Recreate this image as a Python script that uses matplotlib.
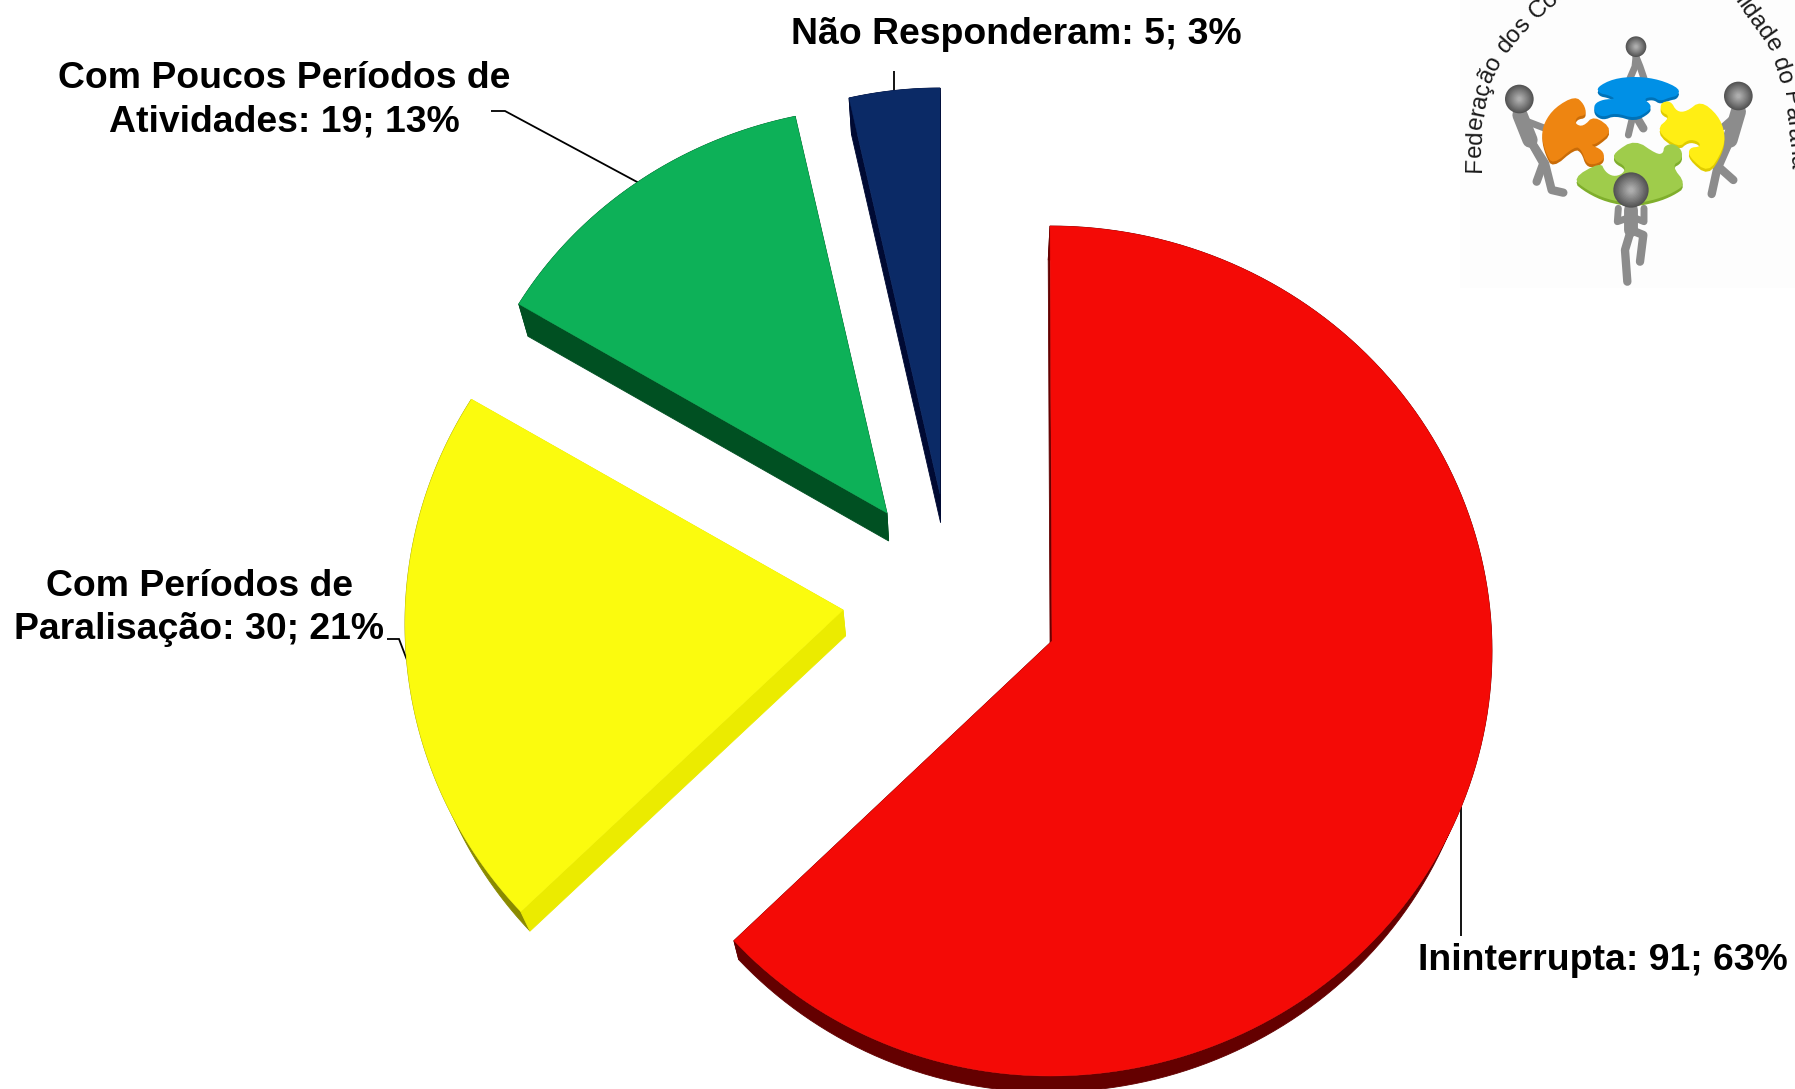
"""Exploded 3D-look pie of the activity categories, with the federation logo
redrawn in the top right corner. The axes run in image pixels, y pointing down.
"""
import matplotlib.pyplot as plt
import numpy as np
from matplotlib.textpath import TextPath
from matplotlib.font_manager import FontProperties

plt.rcParams["font.family"] = ["Liberation Sans", "DejaVu Sans"]

# ── Data ──────────────────────────────────────────────────────────────────────
categories = ["Ininterrupta", "Com Períodos de\nParalisação",
              "Com Poucos Períodos de\nAtividades", "Não Responderam"]
values = [91, 30, 19, 5]
percents = [63, 21, 13, 3]

# ── Styles, one entry per slice ───────────────────────────────────────────────
TOP_COLORS = ["#f40a06", "#fbfb0e", "#0db158", "#0b2a66"]
CUT_COLORS = ["#640000", "#ebeb00", "#005022", "#000a33"]
RIM_COLORS = ["#640000", "#8a8a00", "#005022", "#000a33"]
APEX = [(1052, 641), (843, 610), (887, 513), (940, 494)]
CENTERS = [(1050, 651), (844, 624), (887, 506), (940, 513)]
RADII = [(442, 432, 425), (439, 439, 425), (427, 427, 399), (423, 423, 425)]  # right, left, y
END_SHIFT = [(0, -1.1), (-1.5, -1.5), (0, 0), (0, 0)]
LABEL_XY = [(1603, 961), (199, 608), (284, 100), (1016, 34)]
LEADERS = [[(1461, 807), (1461, 936)],
           [(387, 639), (399, 639), (407, 660)],
           [(491, 111), (505, 111), (639, 183)],
           [(894, 71), (894, 92)]]
VANISH = np.array([965, 1845])
DEPTH = 0.021


def extrude(pts):
    return pts + DEPTH * (VANISH - pts)


fig = plt.figure(figsize=(17.95, 10.89), dpi=100, facecolor="white")
ax = fig.add_axes([0, 0, 1, 1])
ax.set_xlim(0, 1795)
ax.set_ylim(1089, 0)
ax.axis("off")

# ── Pie slices ────────────────────────────────────────────────────────────────
angles = 90 - np.concatenate([[0], np.cumsum(values)]) * 360 / sum(values)

for i, label in enumerate(categories):
    t = np.radians(np.linspace(angles[i] + END_SHIFT[i][0], angles[i + 1] + END_SHIFT[i][1], 160))
    rx = np.where(np.cos(t) >= 0, RADII[i][0], RADII[i][1])
    rim = np.column_stack([CENTERS[i][0] + rx * np.cos(t),
                           CENTERS[i][1] - RADII[i][2] * np.sin(t)])
    apex = np.array([APEX[i]], dtype=float)
    low_rim = extrude(rim)
    low_apex = extrude(apex)

    ax.fill(*np.vstack([rim, low_rim[::-1]]).T, color=RIM_COLORS[i], lw=0.6, zorder=2)
    for end in (0, -1):
        cut = np.vstack([apex, rim[[end]], low_rim[[end]], low_apex])
        ax.fill(*cut.T, color=CUT_COLORS[i], lw=0.6, zorder=3)
    ax.fill(*np.vstack([apex, rim]).T, color=TOP_COLORS[i], lw=0.3, zorder=4)

    ax.plot(*np.array(LEADERS[i]).T, color="black", lw=1.3, zorder=1,
            solid_capstyle="butt", solid_joinstyle="miter")
    ax.text(LABEL_XY[i][0], LABEL_XY[i][1], f"{label}: {values[i]}; {percents[i]}%",
            fontsize=26.95, fontweight="bold", ha="center", va="center",
            multialignment="center", linespacing=1.3, color="black", zorder=5)


def lz(pts):
    return np.array(pts, dtype=float) / 3 + [1440, 0]


def smooth(pts, rounds=2):
    # corner cutting, keeps the puzzle outlines from looking faceted
    for _ in range(rounds):
        nxt = np.roll(pts, -1, axis=0)
        pts = np.column_stack([0.75 * pts + 0.25 * nxt, 0.25 * pts + 0.75 * nxt]).reshape(-1, 2)
    return pts


ax.fill(*lz([(60, 0), (1065, 0), (1065, 865), (60, 865)]).T, color="#fdfdfd", lw=0, zorder=0)

ORANGE = [(405, 288), (432, 312), (440, 345), (410, 350), (405, 372), (430, 380), (462, 346),
          (520, 390), (470, 432), (450, 434), (488, 450), (494, 478), (465, 494), (438, 490),
          (425, 450), (405, 438), (338, 496), (316, 455), (305, 410), (312, 368), (345, 322)]
BLUE = [(470, 262), (520, 236), (590, 229), (660, 239), (720, 266), (712, 288), (690, 292),
        (660, 304), (640, 290), (610, 296), (634, 315), (628, 332), (585, 356), (525, 338),
        (490, 352), (464, 338), (462, 312), (490, 298), (528, 297), (505, 285), (478, 280)]
YELLOW = [(782, 302), (834, 345), (856, 400), (848, 452), (805, 520), (746, 470), (748, 443),
          (782, 440), (775, 424), (745, 418), (715, 444), (646, 390), (692, 350), (662, 335),
          (662, 308), (692, 302), (710, 335), (740, 335)]
GREEN = [(585, 418), (650, 463), (670, 460), (672, 438), (700, 430), (726, 450), (726, 480),
         (695, 497), (738, 552), (700, 578), (650, 598), (580, 612), (500, 598), (440, 570),
         (396, 535), (482, 486), (495, 515), (520, 530), (548, 522), (558, 500), (522, 480),
         (522, 458)]
# (polyline, width) for the grey figures
BODIES = [
    ([(588, 170), (585, 200), (570, 235)], 5), ([(588, 170), (600, 200), (612, 235)], 5),
    ([(578, 350), (565, 405)], 5), ([(592, 355), (610, 385)], 6),
    ([(240, 345), (270, 420)], 11), ([(270, 420), (315, 490), (335, 570), (370, 578)], 6),
    ([(270, 420), (310, 490), (290, 545)], 6), ([(250, 360), (315, 385)], 5),
    ([(895, 335), (870, 420)], 11), ([(870, 420), (835, 490), (815, 582)], 6),
    ([(870, 420), (835, 500), (880, 540)], 6), ([(890, 345), (850, 380)], 5),
    ([(573, 630), (573, 690)], 10), ([(573, 690), (555, 750), (562, 845)], 6),
    ([(573, 690), (610, 705), (600, 785)], 6),
    ([(535, 625), (532, 665), (575, 650)], 5), ([(612, 625), (612, 665), (575, 650)], 5),
]
for body, width in BODIES:
    ax.plot(*lz(body).T, color="#8c8c8c", lw=width, zorder=6,
            solid_capstyle="round", solid_joinstyle="round")

for piece, face, edge in [(BLUE, "#0090e6", "#0072b8"), (ORANGE, "#ee8511", "#c96c08"),
                          (YELLOW, "#ffee14", "#e0cc00"), (GREEN, "#9fcc4b", "#7fae2c")]:
    pts = smooth(lz(piece))
    ax.fill(*(pts + [0, 3]).T, color=edge, lw=0, zorder=7)
    ax.fill(*pts.T, color=face, lw=0, zorder=8)

for (hx, hy, hr) in [(588, 140, 31), (238, 297, 43), (895, 288, 43), (573, 570, 53)]:
    for f, shade in zip(np.linspace(1, 0.15, 12), np.linspace(0.33, 0.68, 12)):
        circle = plt.Circle((1440 + hx / 3, hy / 3), hr / 3 * f, color=str(shade), lw=0, zorder=9)
        ax.add_patch(circle)

# Arc text, letter by letter along a baseline
ARC_X = np.array([1481, 1482, 1490, 1505, 1535, 1590, 1660, 1730, 1768, 1783, 1790, 1792])
ARC_Y = np.array([172, 125, 85, 55, 20, -25, -40, -5, 48, 93, 157, 200])
ARC_TEXT = "Federação dos Conselhos da Comunidade do Paraná"
ARC_SIZE = 17.4
arc_len = np.concatenate([[0], np.cumsum(np.hypot(np.diff(ARC_X), np.diff(ARC_Y)))])
prop = FontProperties(family="Liberation Sans")
px_size = ARC_SIZE * 100 / 72
pos = 0.0
for ch in ARC_TEXT:
    adv = TextPath((0, 0), ch + "|", size=px_size, prop=prop).get_extents().x1 \
        - TextPath((0, 0), "|", size=px_size, prop=prop).get_extents().x1
    mid = pos + adv / 2
    px, py = np.interp(mid, arc_len, ARC_X), np.interp(mid, arc_len, ARC_Y)
    dx = np.interp(mid + 2, arc_len, ARC_X) - np.interp(mid - 2, arc_len, ARC_X)
    dy = np.interp(mid + 2, arc_len, ARC_Y) - np.interp(mid - 2, arc_len, ARC_Y)
    ax.text(px, py, ch, fontsize=ARC_SIZE, rotation=np.degrees(np.arctan2(-dy, dx)),
            rotation_mode="anchor", ha="center", va="baseline", color="#1a1a1a", zorder=6)
    pos += adv

fig.savefig("out.png", dpi=100, facecolor="white")
